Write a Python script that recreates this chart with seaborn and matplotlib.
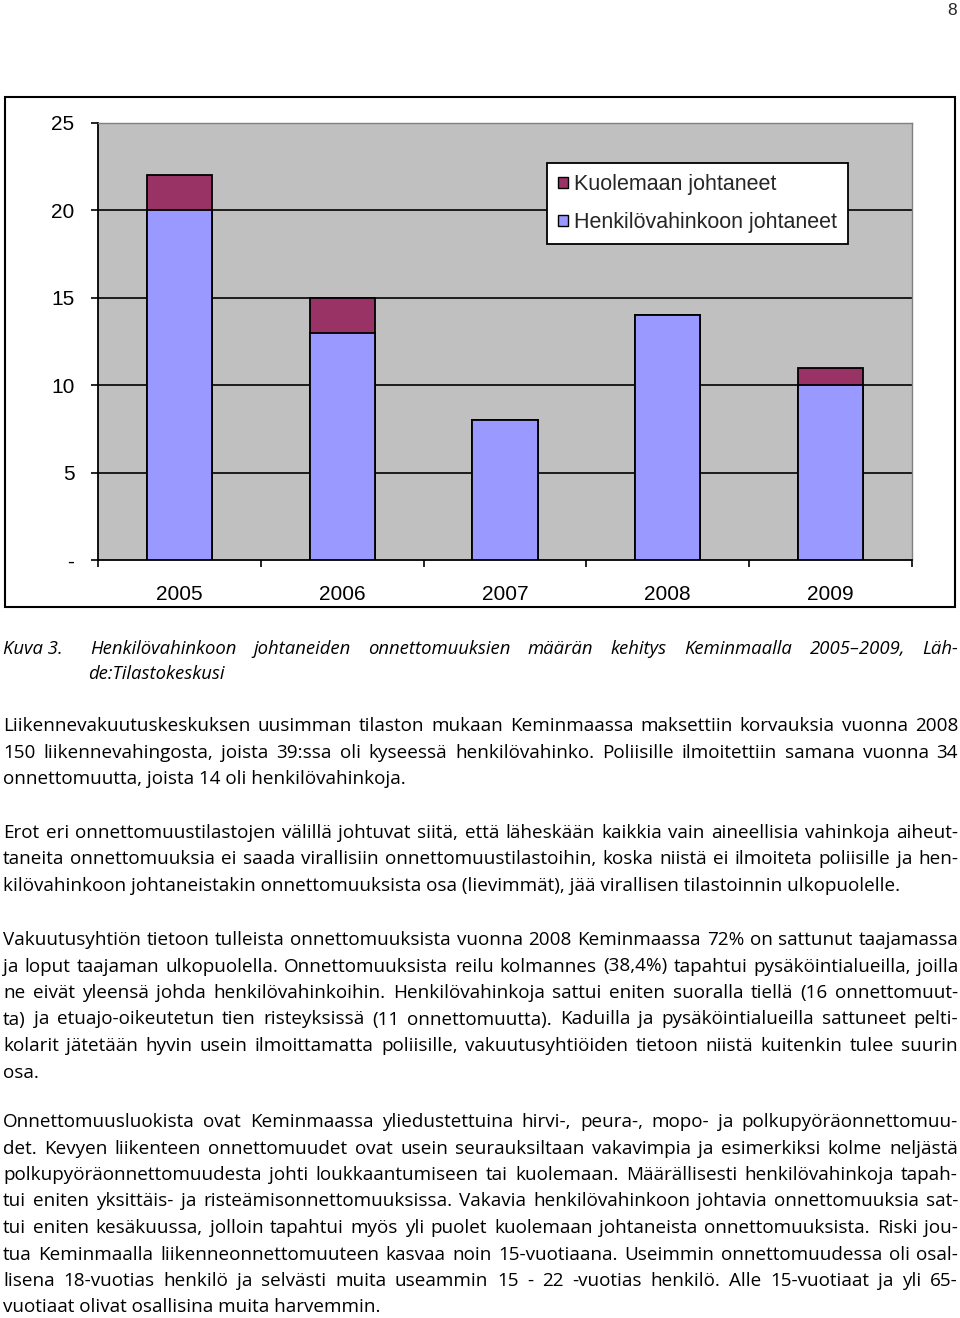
import matplotlib
matplotlib.use('Agg')
import matplotlib.pyplot as plt
import matplotlib.patches as mpatches
import seaborn as sns

# chart data
years = ['2005', '2006', '2007', '2008', '2009']
injury = [20, 13, 8, 14, 10]
fatal = [2, 2, 0, 0, 1]
series_labels = ['Kuolemaan johtaneet', 'Henkilövahinkoon johtaneet']
ytick_vals = [0, 5, 10, 15, 20, 25]
ytick_labels = ['-', '5', '10', '15', '20', '25']

# page text
page_number = '8'
caption_label = 'Kuva 3.'
caption_lines = [
    'Henkilövahinkoon johtaneiden onnettomuuksien määrän kehitys Keminmaalla 2005–2009, Läh-',
    'de:Tilastokeskusi',
]
paragraphs = [
    [
        'Liikennevakuutuskeskuksen uusimman tilaston mukaan Keminmaassa maksettiin korvauksia vuonna 2008',
        '150 liikennevahingosta, joista 39:ssa oli kyseessä henkilövahinko. Poliisille ilmoitettiin samana vuonna 34',
        'onnettomuutta, joista 14 oli henkilövahinkoja.',
    ],
    [
        'Erot eri onnettomuustilastojen välillä johtuvat siitä, että läheskään kaikkia vain aineellisia vahinkoja aiheut-',
        'taneita onnettomuuksia ei saada virallisiin onnettomuustilastoihin, koska niistä ei ilmoiteta poliisille ja hen-',
        'kilövahinkoon johtaneistakin onnettomuuksista osa (lievimmät), jää virallisen tilastoinnin ulkopuolelle.',
    ],
    [
        'Vakuutusyhtiön tietoon tulleista onnettomuuksista vuonna 2008 Keminmaassa 72% on sattunut taajamassa',
        'ja loput taajaman ulkopuolella. Onnettomuuksista reilu kolmannes (38,4%) tapahtui pysäköintialueilla, joilla',
        'ne eivät yleensä johda henkilövahinkoihin. Henkilövahinkoja sattui eniten suoralla tiellä (16 onnettomuut-',
        'ta) ja etuajo-oikeutetun tien risteyksissä (11 onnettomuutta). Kaduilla ja pysäköintialueilla sattuneet pelti-',
        'kolarit jätetään hyvin usein ilmoittamatta poliisille, vakuutusyhtiöiden tietoon niistä kuitenkin tulee suurin',
        'osa.',
    ],
    [
        'Onnettomuusluokista ovat Keminmaassa yliedustettuina hirvi-, peura-, mopo- ja polkupyöräonnettomuu-',
        'det. Kevyen liikenteen onnettomuudet ovat usein seurauksiltaan vakavimpia ja esimerkiksi kolme neljästä',
        'polkupyöräonnettomuudesta johti loukkaantumiseen tai kuolemaan. Määrällisesti henkilövahinkoja tapah-',
        'tui eniten yksittäis- ja risteämisonnettomuuksissa. Vakavia henkilövahinkoon johtavia onnettomuuksia sat-',
        'tui eniten kesäkuussa, jolloin tapahtui myös yli puolet kuolemaan johtaneista onnettomuuksista. Riski jou-',
        'tua Keminmaalla liikenneonnettomuuteen kasvaa noin 15-vuotiaana. Useimmin onnettomuudessa oli osal-',
        'lisena 18-vuotias henkilö ja selvästi muita useammin 15 - 22 -vuotias henkilö. Alle 15-vuotiaat ja yli 65-',
        'vuotiaat olivat osallisina muita harvemmin.',
    ],
]
para_baselines = [731, 838, 945, 1127]

W, H = 960, 1318
LINE_STEP = 26.5
TEXT_L, TEXT_R = 3, 958
BODY_FONT = ['Open Sans', 'DejaVu Sans']

LAVENDER = '#9999ff'
MAROON = '#993366'


def fx(x):
    return x / W


def fy(y):
    return 1 - y / H


def natural_width(fig, renderer, s, size, **kw):
    t = fig.text(0, 0, s, fontsize=size, **kw)
    w = t.get_window_extent(renderer).width
    t.remove()
    return w


def put_line(fig, renderer, line, x0, x1, y, size, justify, **kw):
    if not justify:
        fig.text(fx(x0), fy(y), line, fontsize=size, ha='left', va='baseline', **kw)
        return
    words = line.split()
    texts = [fig.text(0, fy(y), w, fontsize=size, ha='left', va='baseline', **kw) for w in words]
    widths = [t.get_window_extent(renderer).width for t in texts]
    gap = (x1 - x0 - sum(widths)) / max(len(words) - 1, 1)
    x = x0
    for t, w in zip(texts, widths):
        t.set_x(fx(x))
        x += w + gap


sns.set_theme(style='white')
plt.rcParams['font.family'] = ['Liberation Sans', 'DejaVu Sans']

fig = plt.figure(figsize=(W / 100, H / 100), dpi=100)
fig.patch.set_facecolor('white')
renderer = fig.canvas.get_renderer()

# ---- chart ----
ax = fig.add_axes([fx(98), fy(560), (912 - 98) / W, (560 - 123) / H])
ax.set_facecolor('#c0c0c0')

totals = [a + b for a, b in zip(injury, fatal)]
sns.barplot(x=years, y=totals, color=MAROON, saturation=1, width=0.4,
            edgecolor='black', linewidth=1.3, ax=ax, zorder=3)
sns.barplot(x=years, y=injury, color=LAVENDER, saturation=1, width=0.4,
            edgecolor='black', linewidth=1.3, ax=ax, zorder=3)

ax.set_xlim(-0.5, len(years) - 0.5)
ax.set_ylim(0, 25)
ax.set_yticks(ytick_vals)
ax.set_yticklabels(ytick_labels)
ax.set_xlabel('')
ax.set_ylabel('')

ax.yaxis.grid(True, color='black', linewidth=1.2)
ax.get_ygridlines()[-1].set_visible(False)
ax.get_ygridlines()[0].set_visible(False)
ax.xaxis.grid(False)
ax.set_axisbelow(True)

ax.tick_params(axis='y', which='major', direction='out', length=5, width=1.2,
               color='black', pad=12, labelsize=15, left=True)
ax.set_xticks([i - 0.5 for i in range(len(years) + 1)], minor=True)
ax.tick_params(axis='x', which='minor', direction='out', length=5, width=1.2,
               color='black', bottom=True)
ax.tick_params(axis='x', which='major', length=0, pad=18, labelsize=15)
for lab in ax.get_xticklabels() + ax.get_yticklabels():
    lab.set_color('black')

for side in ['left', 'bottom']:
    ax.spines[side].set_color('black')
    ax.spines[side].set_linewidth(1.3)
for side in ['top', 'right']:
    ax.spines[side].set_color('#808080')
    ax.spines[side].set_linewidth(1.0)

handles = [mpatches.Patch(facecolor=MAROON, edgecolor='black', linewidth=1),
           mpatches.Patch(facecolor=LAVENDER, edgecolor='black', linewidth=1)]
leg = ax.legend(handles, series_labels, loc='upper left',
                bbox_to_anchor=(0.552, 0.908), borderaxespad=0,
                fontsize=15.5, frameon=True, fancybox=False, framealpha=1,
                edgecolor='black', handlelength=0.45, handleheight=0.45,
                handletextpad=0.3, labelspacing=0.8, borderpad=0.5)
leg.get_frame().set_linewidth(1.3)
leg.set_zorder(5)

# outer chart frame
fig.add_artist(mpatches.Rectangle((fx(5), fy(607)), (955 - 5) / W, (607 - 97) / H,
                                  transform=fig.transFigure, fill=False,
                                  edgecolor='black', linewidth=1.5))

# page number
fig.text(fx(957), fy(15), page_number, ha='right', va='baseline', fontsize=12.5,
         family=['Liberation Sans', 'DejaVu Sans'])

# ---- caption ----
cap_kw = dict(family=BODY_FONT, style='italic', color='black')
cap_size = 10 * 136 / natural_width(fig, renderer, caption_lines[1], 10, **cap_kw)
cap_fit = 10 * (TEXT_R - 90) / natural_width(fig, renderer, caption_lines[0], 10, **cap_kw)
cap_size = min(cap_size, cap_fit * 0.99)
fig.text(fx(TEXT_L), fy(654), caption_label, fontsize=cap_size, ha='left', va='baseline', **cap_kw)
put_line(fig, renderer, caption_lines[0], 90, TEXT_R, 654, cap_size, True, **cap_kw)
put_line(fig, renderer, caption_lines[1], 88, TEXT_R, 679, cap_size, False, **cap_kw)

# ---- body paragraphs ----
body_kw = dict(family=BODY_FONT, color='black')
ref = paragraphs[1][-1]
body_size = 10 * (910 - TEXT_L) / natural_width(fig, renderer, ref, 10, **body_kw)
for para in paragraphs:
    for line in para[:-1]:
        fit = 10 * (TEXT_R - TEXT_L) / natural_width(fig, renderer, line, 10, **body_kw)
        body_size = min(body_size, fit * 0.995)

for para, y0 in zip(paragraphs, para_baselines):
    for i, line in enumerate(para):
        put_line(fig, renderer, line, TEXT_L, TEXT_R, y0 + i * LINE_STEP,
                 body_size, i < len(para) - 1, **body_kw)

fig.savefig('out.png', dpi=100, facecolor='white')
